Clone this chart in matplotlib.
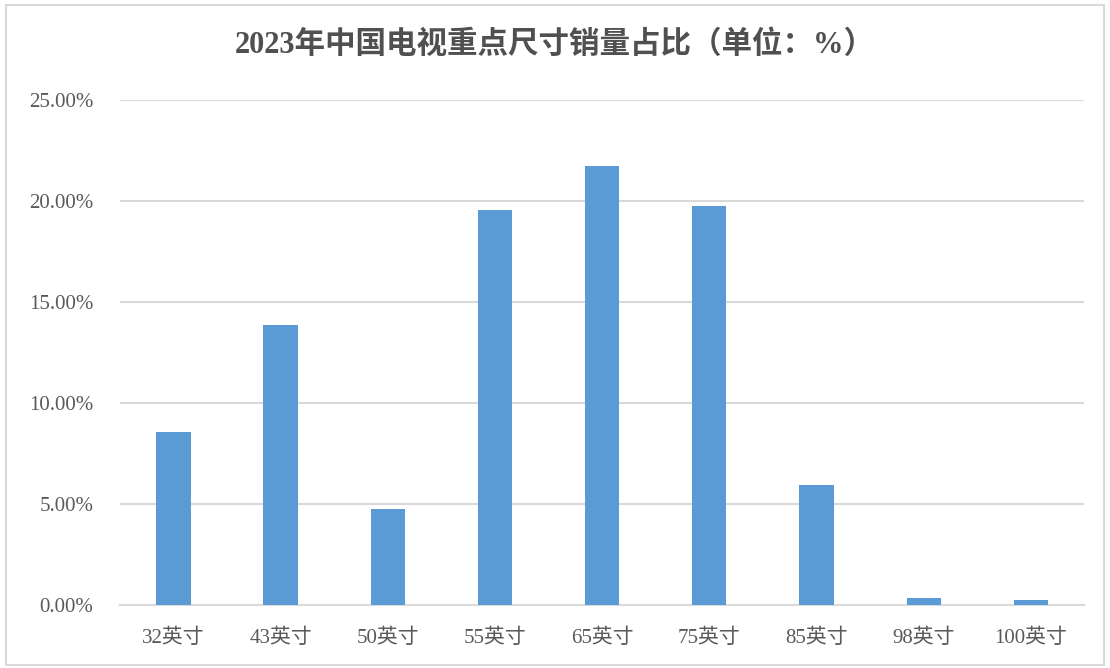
import matplotlib
matplotlib.use("Agg")
import matplotlib.pyplot as plt
from matplotlib.patches import Rectangle
from matplotlib.ticker import FuncFormatter

plt.rcParams['font.family'] = ['Liberation Serif', 'Noto Sans CJK SC']

sizes = ["32英寸", "43英寸", "50英寸", "55英寸", "65英寸", "75英寸", "85英寸", "98英寸", "100英寸"]
share = [8.56, 13.86, 4.77, 19.55, 21.73, 19.75, 5.96, 0.36, 0.27]
title = "2023年中国电视重点尺寸销量占比（单位：%）"

fig = plt.figure(figsize=(11.1, 6.68), dpi=100)
ax = fig.add_axes([0.108, 0.094, 0.869, 0.756])

x = range(len(sizes))
ax.bar(x, share, width=0.32, color="#5b9bd5", zorder=3)
ax.set_xlim(-0.5, len(sizes) - 0.5)
ax.set_ylim(0, 25)
ax.set_yticks([0, 5, 10, 15, 20, 25])
ax.yaxis.set_major_formatter(FuncFormatter(lambda v, _: f"{v:.2f}%"))
ax.set_xticks(list(x))
ax.set_xticklabels(sizes)
ax.grid(axis="y", color="#d9d9d9", lw=1.5, zorder=0)
for s in ["top", "right", "left"]:
    ax.spines[s].set_visible(False)
ax.spines["bottom"].set_color("#d9d9d9")
ax.spines["bottom"].set_linewidth(1.5)
ax.tick_params(length=0, labelsize=15, colors="#595959")
ax.tick_params(axis="x", pad=17)
ax.tick_params(axis="y", pad=19)

fig.text(0.5, 0.932, title, ha="center", va="center", fontsize=22,
         fontweight="bold", color="#505050")

fig.patches.append(Rectangle((0.005, 0.005), 0.99, 0.988, transform=fig.transFigure,
                             fill=False, edgecolor="#d9d9d9", lw=1.5))

fig.savefig("out.png", dpi=100)
